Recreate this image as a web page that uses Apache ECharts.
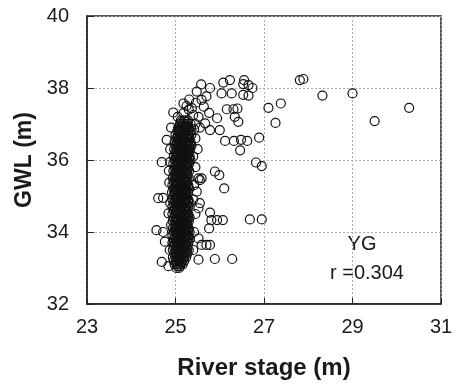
<!DOCTYPE html>
<html>
<head>
<meta charset="utf-8">
<script src="https://cdn.jsdelivr.net/npm/echarts@6/dist/echarts.min.js"></script>
<style>
  html, body { margin: 0; padding: 0; background: #fff; }
  #chart { width: 456px; height: 387px; }
</style>
</head>
<body>
<div id="chart"></div>
<script>
// axis ticks
var xTicks = [23, 25, 27, 29, 31];
var yTicks = [32, 34, 36, 38, 40];

// dense column near 25 m: one row per GWL level, river stages on that row
var coreGwl = [33.0, 33.1, 33.2, 33.3, 33.4, 33.5, 33.6, 33.7, 33.8, 33.9,
	34.0, 34.1, 34.2, 34.3, 34.4, 34.5, 34.6, 34.7, 34.8, 34.9,
	35.0, 35.1, 35.2, 35.3, 35.4, 35.5, 35.6, 35.7, 35.8, 35.9,
	36.0, 36.1, 36.2, 36.3, 36.4, 36.5, 36.6, 36.7, 36.8, 36.9,
	37.0, 37.1];
var coreStage = [
	[25.02, 25.08],
	[24.98, 25.04, 25.1, 25.16],
	[24.96, 25.02, 25.08, 25.14, 25.2],
	[24.94, 25.0, 25.06, 25.12, 25.18, 25.24],
	[24.97, 25.03, 25.09, 25.15, 25.21, 25.27],
	[24.94, 25.0, 25.06, 25.12, 25.18, 25.24, 25.3],
	[24.96, 25.02, 25.08, 25.14, 25.2, 25.26],
	[24.93, 24.99, 25.05, 25.11, 25.17, 25.23, 25.29],
	[24.96, 25.02, 25.08, 25.14, 25.2, 25.26, 25.32],
	[24.93, 24.99, 25.05, 25.11, 25.17, 25.23, 25.29],
	[24.96, 25.02, 25.08, 25.14, 25.2, 25.26, 25.32],
	[24.94, 25.0, 25.06, 25.12, 25.18, 25.24, 25.3],
	[24.97, 25.03, 25.09, 25.15, 25.21, 25.27],
	[24.94, 25.0, 25.06, 25.12, 25.18, 25.24, 25.3],
	[24.96, 25.02, 25.08, 25.14, 25.2, 25.26, 25.32],
	[24.93, 24.99, 25.05, 25.11, 25.17, 25.23, 25.29],
	[24.96, 25.02, 25.08, 25.14, 25.2, 25.26],
	[24.93, 24.99, 25.05, 25.11, 25.17, 25.23, 25.29],
	[24.96, 25.02, 25.08, 25.14, 25.2, 25.26, 25.32],
	[24.93, 24.99, 25.05, 25.11, 25.17, 25.23, 25.29],
	[24.95, 25.01, 25.07, 25.13, 25.19, 25.25],
	[24.92, 24.98, 25.04, 25.1, 25.16, 25.22, 25.28],
	[24.95, 25.01, 25.07, 25.13, 25.19, 25.25, 25.31],
	[24.93, 24.99, 25.05, 25.11, 25.17, 25.23, 25.29],
	[24.96, 25.02, 25.08, 25.14, 25.2, 25.26],
	[24.94, 25.0, 25.06, 25.12, 25.18, 25.24, 25.3],
	[24.97, 25.03, 25.09, 25.15, 25.21, 25.27],
	[24.95, 25.01, 25.07, 25.13, 25.19, 25.25, 25.31],
	[24.98, 25.04, 25.1, 25.16, 25.22, 25.28],
	[24.95, 25.01, 25.07, 25.13, 25.19, 25.25, 25.31],
	[24.98, 25.04, 25.1, 25.16, 25.22, 25.28, 25.34],
	[24.96, 25.02, 25.08, 25.14, 25.2, 25.26, 25.32],
	[24.99, 25.05, 25.11, 25.17, 25.23, 25.29],
	[24.97, 25.03, 25.09, 25.15, 25.21, 25.27, 25.33],
	[25.0, 25.06, 25.12, 25.18, 25.24, 25.3, 25.36],
	[24.98, 25.04, 25.1, 25.16, 25.22, 25.28, 25.34],
	[25.02, 25.08, 25.14, 25.2, 25.26, 25.32],
	[25.0, 25.06, 25.12, 25.18, 25.24, 25.3, 25.36],
	[25.04, 25.1, 25.16, 25.22, 25.28, 25.34],
	[25.06, 25.12, 25.18, 25.24, 25.3],
	[25.1, 25.16, 25.22, 25.28, 25.34],
	[25.12, 25.2, 25.28]
];

// in-between levels of the same column
var midGwl = [33.05, 33.15, 33.25, 33.35, 33.45, 33.55, 33.65, 33.75, 33.85, 33.95,
	34.05, 34.15, 34.25, 34.35, 34.45, 34.55, 34.65, 34.75, 34.85, 34.95,
	35.05, 35.15, 35.25, 35.35, 35.45, 35.55, 35.65, 35.75, 35.85, 35.95,
	36.05, 36.15, 36.25, 36.35, 36.45, 36.55, 36.65, 36.75, 36.85, 36.95,
	37.05];
var midStage = [
	[25.05, 25.11],
	[25.01, 25.13],
	[25.05, 25.17],
	[25.03, 25.15, 25.21],
	[25.0, 25.12, 25.24],
	[25.03, 25.15, 25.27],
	[24.99, 25.11, 25.23],
	[25.02, 25.14, 25.26],
	[24.99, 25.11, 25.23, 25.29],
	[25.02, 25.14, 25.26],
	[24.99, 25.11, 25.23, 25.29],
	[25.03, 25.15, 25.27],
	[25.0, 25.12, 25.24],
	[25.03, 25.15, 25.27],
	[24.99, 25.11, 25.23, 25.29],
	[25.02, 25.14, 25.26],
	[24.99, 25.11, 25.23],
	[25.02, 25.14, 25.26],
	[24.99, 25.11, 25.23, 25.29],
	[25.02, 25.14, 25.26],
	[24.98, 25.1, 25.22],
	[25.01, 25.13, 25.25],
	[24.98, 25.1, 25.22, 25.28],
	[25.02, 25.14, 25.26],
	[24.99, 25.11, 25.23],
	[25.03, 25.15, 25.27],
	[25.0, 25.12, 25.24],
	[25.04, 25.16, 25.28],
	[25.01, 25.13, 25.25],
	[25.04, 25.16, 25.28],
	[25.01, 25.13, 25.25, 25.31],
	[25.05, 25.17, 25.29],
	[25.02, 25.14, 25.26],
	[25.06, 25.18, 25.3],
	[25.03, 25.15, 25.27, 25.33],
	[25.07, 25.19, 25.31],
	[25.05, 25.17, 25.29],
	[25.09, 25.21, 25.33],
	[25.07, 25.19, 25.31],
	[25.09, 25.21, 25.27],
	[25.13, 25.25]
];

// scattered points around the column and the high-stage outliers [stage, gwl]
var spreadPoints = [
	[24.84, 33.05], [24.69, 33.17], [24.87, 33.5], [24.76, 33.73], [24.57, 34.05],
	[24.72, 34.0], [24.9, 34.2], [24.84, 34.52], [24.88, 34.8], [24.61, 34.94],
	[24.72, 34.95], [24.86, 35.37], [24.85, 35.7], [24.69, 35.94], [24.88, 35.95],
	[24.88, 36.3], [24.8, 36.56], [24.9, 36.9], [24.95, 37.32], [25.05, 37.2],
	[25.52, 33.23], [25.89, 33.25], [26.28, 33.25], [25.4, 33.5], [25.59, 33.64],
	[25.7, 33.64], [25.78, 33.64], [25.52, 33.82], [25.42, 34.0], [25.76, 34.1],
	[25.81, 34.33], [25.94, 34.33], [26.07, 34.33], [26.68, 34.35], [26.95, 34.35],
	[25.45, 34.5], [25.78, 34.54], [25.52, 34.66], [25.55, 34.8], [25.4, 34.9],
	[25.48, 35.12], [26.1, 35.21], [25.42, 35.3], [25.55, 35.44], [25.52, 35.49],
	[25.59, 35.49], [25.99, 35.58], [25.89, 35.68], [25.45, 35.8], [26.95, 35.83],
	[26.82, 35.93], [25.4, 36.1], [26.46, 36.27], [25.5, 36.3], [26.12, 36.53],
	[26.32, 36.53], [26.62, 36.53], [26.48, 36.56], [25.45, 36.6], [26.89, 36.62],
	[25.78, 36.83], [26.0, 36.83], [25.42, 36.85], [25.55, 36.9], [25.45, 37.0],
	[25.67, 37.02], [27.26, 37.03], [26.42, 37.06], [25.94, 37.16], [25.52, 37.2],
	[26.34, 37.2], [25.4, 37.25], [25.18, 37.3], [25.76, 37.31], [25.3, 37.4],
	[26.16, 37.41], [26.31, 37.41], [26.4, 37.43], [25.37, 37.44], [27.1, 37.45],
	[25.64, 37.48], [25.25, 37.5], [25.18, 37.57], [27.38, 37.57], [25.46, 37.59],
	[25.59, 37.67], [25.31, 37.68], [25.7, 37.77], [26.65, 37.79], [26.53, 37.81],
	[26.04, 37.85], [26.27, 37.85], [25.48, 37.9], [25.78, 38.0], [26.74, 38.0],
	[26.65, 38.08], [25.58, 38.1], [26.53, 38.11], [26.08, 38.15], [26.23, 38.22],
	[26.55, 38.22], [27.81, 38.22], [27.89, 38.25], [28.32, 37.79], [29.0, 37.85],
	[30.28, 37.45], [29.5, 37.08]
];

var stationName = 'YG';
var corrText = 'r =0.304';

var points = [];
coreGwl.forEach(function (g, i) {
	coreStage[i].forEach(function (s) {
		points.push([s, g]);
	});
});
midGwl.forEach(function (g, i) {
	midStage[i].forEach(function (s) {
		points.push([s, g]);
	});
});
spreadPoints.forEach(function (p) {
	points.push(p);
});

var chart = echarts.init(document.getElementById('chart'), null, { renderer: 'canvas' });

var font = 'Arial, "Liberation Sans", sans-serif';

chart.setOption({
	animation: false,
	backgroundColor: '#fff',
	grid: {
		left: 87, right: 15, top: 16, bottom: 83,
		show: true,
		borderColor: '#222',
		borderWidth: 1.5
	},
	xAxis: {
		type: 'value',
		min: xTicks[0],
		max: xTicks[xTicks.length - 1],
		interval: xTicks[1] - xTicks[0],
		name: 'River stage (m)',
		nameLocation: 'middle',
		nameGap: 52,
		nameTextStyle: { fontFamily: font, fontSize: 24, fontWeight: 'bold', color: '#1a1a1a' },
		axisLine: { lineStyle: { color: '#222', width: 1.5 } },
		axisTick: { inside: true, length: 6, lineStyle: { color: '#222' } },
		axisLabel: { fontFamily: font, fontSize: 20, color: '#1a1a1a', margin: 13 },
		splitLine: { lineStyle: { color: '#aaa', type: [2, 2], width: 1 } }
	},
	yAxis: {
		type: 'value',
		min: yTicks[0],
		max: yTicks[yTicks.length - 1],
		interval: yTicks[1] - yTicks[0],
		name: 'GWL (m)',
		nameLocation: 'middle',
		nameGap: 50,
		nameTextStyle: { fontFamily: font, fontSize: 23, fontWeight: 'bold', color: '#1a1a1a' },
		axisLine: { lineStyle: { color: '#222', width: 1.5 } },
		axisTick: { inside: true, length: 7, lineStyle: { color: '#222' } },
		axisLabel: { fontFamily: font, fontSize: 20, color: '#1a1a1a', margin: 18 },
		splitLine: { lineStyle: { color: '#aaa', type: [2, 2], width: 1 } }
	},
	graphic: [
		{
			type: 'text', x: 362, y: 244,
			style: { text: stationName, font: '20px ' + font, fill: '#1a1a1a', textAlign: 'center', textVerticalAlign: 'middle' }
		},
		{
			type: 'text', x: 367, y: 273,
			style: { text: corrText, font: '20px ' + font, fill: '#1a1a1a', textAlign: 'center', textVerticalAlign: 'middle' }
		}
	],
	series: [{
		type: 'scatter',
		data: points,
		symbol: 'circle',
		symbolSize: 9,
		itemStyle: { color: 'rgba(0,0,0,0)', borderColor: '#111', borderWidth: 1.2, opacity: 1 },
		emphasis: { disabled: true }
	}]
});
</script>
</body>
</html>
